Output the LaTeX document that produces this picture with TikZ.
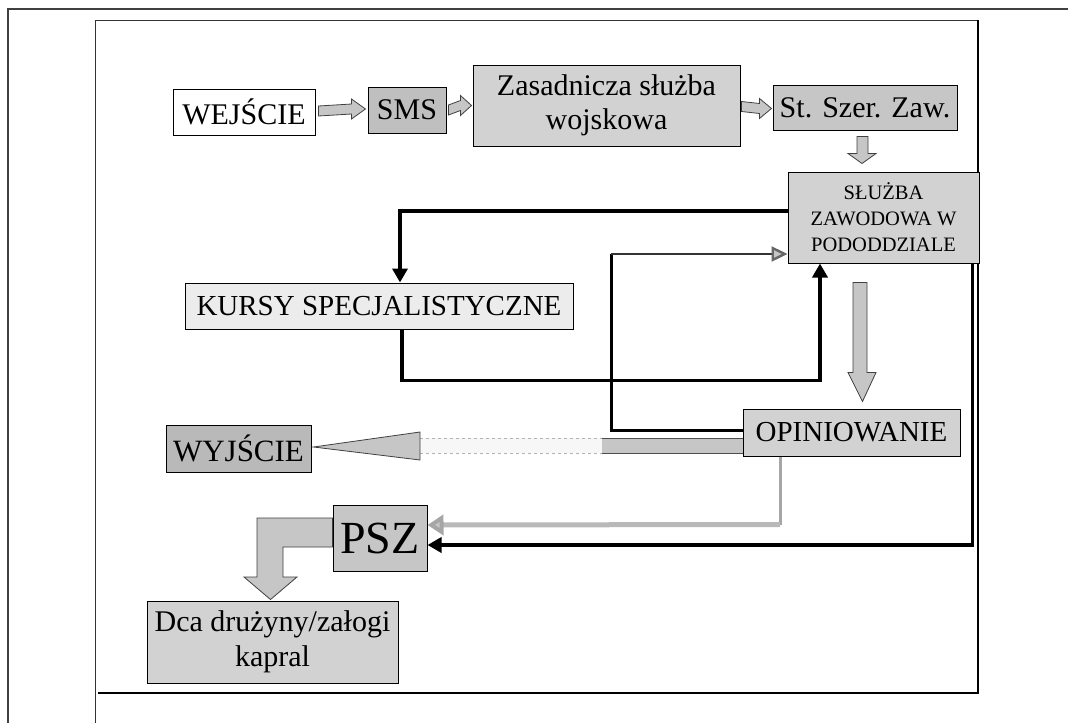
\documentclass[tikz,border=0pt]{standalone}
\usepackage{fontspec}
\setmainfont{Liberation Serif}
\usetikzlibrary{arrows.meta,calc}
\begin{document}
\begin{tikzpicture}[x=1pt,y=-1pt,
  box/.style={draw=black,line width=1pt,inner sep=0pt,align=center,text=black,
    font=\fontsize{30}{33}\selectfont},
  blk/.style={fill=gray!45,draw=black!75,line width=0.8pt,line join=miter},
  heavy/.style={draw=black,line width=3.6pt,line join=miter},
  mid/.style={draw=black,line width=3pt,line join=miter},
  frame/.style={draw=black,line width=2.2pt},
  thinframe/.style={draw=black!80,line width=0.9pt}]
\fill[white] (0,0) rectangle (1068,723);
\useasboundingbox (0,0) rectangle (1068,723);

% frames
\draw[draw=black!75,line width=1.2pt] (8,723) -- (8,9) -- (1068,9);
\draw[thinframe] (95,723) -- (95,20) -- (978,20);
\draw[frame] (978,20) -- (978,693) -- (98,693);

% nodes
\node[box,fill=white,minimum width=142pt,minimum height=46pt] (wej) at (244,112) {WEJŚCIE};
\node[box,fill=gray!50,minimum width=78pt,minimum height=46pt] (sms) at (407,110) {SMS};
\node[box,fill=gray!35,minimum width=267pt,minimum height=81pt,font=\fontsize{30}{34}\selectfont] (zas) at (606.5,105.5) {Zasadnicza służba\\wojskowa};
\node[box,fill=gray!45,minimum width=184pt,minimum height=45pt] (szer) at (865,107.5) {St. Szer. Zaw.};
\node[box,fill=gray!35,minimum width=191pt,minimum height=91pt,font=\fontsize{20.5}{26}\selectfont] (sluz) at (883.5,217.5) {SŁUŻBA\\ZAWODOWA W\\PODODDZIALE};
\node[box,fill=gray!15,minimum width=388pt,minimum height=46pt,font=\fontsize{29}{33}\selectfont] (kurs) at (379,306) {KURSY SPECJALISTYCZNE};
\node[box,fill=gray!35,minimum width=217pt,minimum height=47pt,font=\fontsize{29}{33}\selectfont] (opin) at (851.5,432.5) {OPINIOWANIE};
\node[box,fill=gray!55,minimum width=145pt,minimum height=47pt,font=\fontsize{31}{33}\selectfont] (wyj) at (238.5,448.5) {WYJŚCIE};
\node[box,fill=gray!45,minimum width=94pt,minimum height=66pt,font=\fontsize{46}{48}\selectfont] (psz) at (380,538) {PSZ};
\node[box,fill=gray!35,minimum width=251pt,minimum height=82pt,font=\fontsize{30}{35}\selectfont] (dca) at (272.5,642) {Dca drużyny/załogi\\kapral};

% small block arrows along the top row
\path[blk] ($(wej.east)+(3,-6)$) -- ($(sms.west)+(-16,-6)$) -- ($(sms.west)+(-16,-11)$) -- ($(sms.west)+(-2,-1)$)
  -- ($(sms.west)+(-16,9)$) -- ($(sms.west)+(-16,4)$) -- ($(wej.east)+(3,4)$) -- cycle;
\path[blk] ($(sms.east)+(2,-5)$) -- ($(zas.west)+(-12,-5)$) -- ($(zas.west)+(-12,-10)$) -- ($(zas.west)+(-1,0)$)
  -- ($(zas.west)+(-12,10)$) -- ($(zas.west)+(-12,5)$) -- ($(sms.east)+(2,5)$) -- cycle;
\path[blk] ($(zas.east)+(1,-4)$) -- ($(szer.west)+(-13,-4)$) -- ($(szer.west)+(-13,-9)$) -- ($(szer.west)+(-1,1)$)
  -- ($(szer.west)+(-13,11)$) -- ($(szer.west)+(-13,6)$) -- ($(zas.east)+(1,6)$) -- cycle;
% down arrow St. Szer -> Sluzba
\path[blk] ($(szer.south)+(-8,6)$) -- ($(szer.south)+(-8,23)$) -- ($(szer.south)+(-17,23)$) -- ($(sluz.north)+(-21.5,-8)$)
  -- ($(szer.south)+(11,23)$) -- ($(szer.south)+(3,23)$) -- ($(szer.south)+(3,6)$) -- cycle;
% down arrow Sluzba -> Opiniowanie
\path[blk] ($(sluz.south)+(-30.5,19)$) -- ($(sluz.south)+(-30.5,109)$) -- ($(sluz.south)+(-35.5,109)$) -- ($(opin.north)+(11,-7)$)
  -- ($(sluz.south)+(-7.5,109)$) -- ($(sluz.south)+(-16.5,109)$) -- ($(sluz.south)+(-16.5,19)$) -- cycle;

% thick loop: Sluzba -> Kursy
\draw[heavy,-{Triangle[length=14pt,width=15pt]}] ([yshift=6.5pt]sluz.west) -| ([xshift=21pt]kurs.north);
% Kursy -> Sluzba
\draw[heavy,-{Triangle[length=14pt,width=15pt]}] ([xshift=23pt]kurs.south) -- ++(0,51) -| ([xshift=-63.5pt]sluz.south);
% Opiniowanie -> Sluzba
\coordinate (lc) at (611,254);
\draw[mid] ([yshift=2.5pt]opin.west) -| (lc);
\draw[draw=black!80,line width=2.4pt,-{Triangle[length=16pt,width=15pt,fill=gray!45,color=black!60]}] (lc) -- ([yshift=-36.5pt]sluz.west);
% Sluzba -> PSZ (thick right loop)
\draw[heavy,-{Triangle[length=14pt,width=15pt]}] ([xshift=-7pt]sluz.south east) |- ([yshift=-7pt]psz.east);
% Opiniowanie -> PSZ (grey dotted)
\draw[draw=gray!70,line width=3pt] ([xshift=-71.5pt]opin.south) -- ++(0,68);
\draw[draw=gray!55,line width=5pt,-{Triangle[length=16pt,width=20pt,fill=gray!45,color=gray!70]}]
  ([xshift=-71.5pt,yshift=-68pt]opin.south) -- ([yshift=13pt]psz.east);

% big arrow Opiniowanie -> Wyjscie
\fill[gray!6] (420,438) rectangle (602,453);
\fill[gray!45] (602,438) rectangle ($(opin.west)+(0,20.5)$);
\draw[gray!60,line width=1pt,dashed] (420,438) -- (602,438) (420,453) -- (602,453);
\draw[black!70,line width=0.8pt] (602,438) -- (743,438) (602,453) -- (743,453);
\path[blk] (420,438) -- (420,432) -- ($(wyj.east)+(2,-1.5)$) -- (420,460) -- (420,453) -- cycle;

% L-shaped arrow PSZ -> Dca
\path[blk] ($(psz.west)+(0,-20)$) -- (257,518) -- (257,577) -- (244,577) -- ($(dca.north)+(-2,-1)$)
  -- (297,577) -- (283,577) -- (283,547) -- ($(psz.west)+(0,9)$) -- cycle;
\end{tikzpicture}
\end{document}
